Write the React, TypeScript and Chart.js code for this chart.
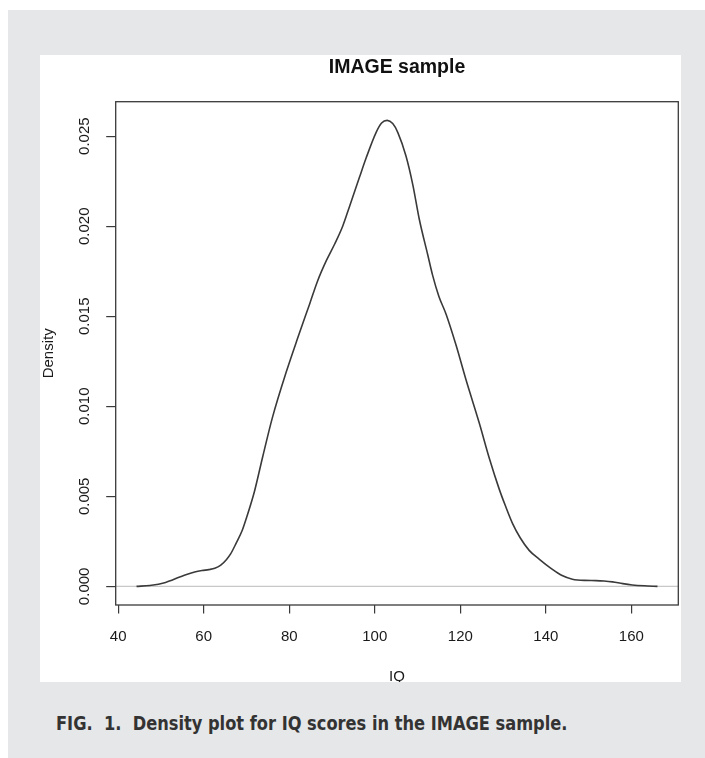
import React, { useEffect, useRef } from "react";
import { Chart, registerables } from "chart.js";

Chart.register(...registerables);

// ---- data ----
const iqValues = [
  44.3, 47.4, 51.1, 54.4, 56.0, 57.9, 59.6, 61.2, 62.6, 64.0, 65.3, 66.3, 67.6,
  69.0, 70.0, 71.9, 73.8, 76.1, 79.3, 82.0, 84.8, 86.7, 88.7, 90.6, 92.5, 94.1,
  96.4, 98.0, 100.3, 101.6, 102.9, 104.2, 105.4, 107.3, 108.9, 110.4, 112.4,
  113.5, 115.0, 116.7, 119.0, 121.3, 124.4, 126.8, 129.1, 130.5, 132.2, 134.0,
  136.1, 138.5, 141.2, 143.8, 146.2, 149.0, 151.7, 153.6, 155.6, 158.0, 160.2,
  163.0, 166.1,
];
const densityValues = [
  0, 0.00005, 0.00022, 0.00052, 0.00066, 0.0008, 0.00088, 0.00093, 0.001,
  0.00118, 0.00148, 0.0018, 0.0024, 0.0031, 0.0038, 0.0053, 0.0072, 0.0094,
  0.0119, 0.0138, 0.0157, 0.017, 0.0181, 0.019, 0.0200, 0.0211, 0.0227,
  0.0238, 0.0252, 0.02573, 0.02588, 0.0257, 0.0252, 0.0239, 0.0223, 0.0204,
  0.0184, 0.0173, 0.0161, 0.0151, 0.0134, 0.0115, 0.0091, 0.0071, 0.0054,
  0.0045, 0.0035, 0.0027, 0.002, 0.0015, 0.001, 0.0006, 0.0004, 0.00033,
  0.00032, 0.0003, 0.00025, 0.00015, 0.00008, 0.00003, 0,
];
const xTickValues = [40, 60, 80, 100, 120, 140, 160];
const yTickValues = [0, 0.005, 0.01, 0.015, 0.02, 0.025];
const xRange = [39.43, 170.97];
const yRange = [-0.001035, 0.026915];
const chartTitle = "IMAGE sample";
const xTitle = "IQ";
const yTitle = "Density";
const caption = "FIG.\u00a0 1.\u00a0 Density plot for IQ scores in the IMAGE sample.";

const FONT = "'Liberation Sans', Arial, Helvetica, sans-serif";

const framePlugin = {
  id: "rframe",
  beforeDatasetsDraw(chart: any) {
    const { ctx, chartArea: a, scales } = chart;
    const py = scales.y.getPixelForValue(0);
    ctx.save();
    ctx.strokeStyle = "#c8c8c8";
    ctx.lineWidth = 1.2;
    ctx.beginPath();
    ctx.moveTo(a.left, py);
    ctx.lineTo(a.right, py);
    ctx.stroke();
    ctx.restore();
  },
  afterDatasetsDraw(chart: any) {
    const { ctx, chartArea: a } = chart;
    ctx.save();
    ctx.strokeStyle = "#3a3a3a";
    ctx.lineWidth = 1.3;
    ctx.strokeRect(a.left, a.top, a.right - a.left, a.bottom - a.top);
    ctx.restore();
  },
};

function DensityChart() {
  const ref = useRef<HTMLCanvasElement | null>(null);
  useEffect(() => {
    if (!ref.current) return;
    const chart = new Chart(ref.current, {
      type: "line",
      data: {
        datasets: [
          {
            data: iqValues.map((x, i) => ({ x, y: densityValues[i] })),
            borderColor: "#3a3a3a",
            borderWidth: 1.6,
            pointRadius: 0,
            cubicInterpolationMode: "monotone",
            fill: false,
          },
        ],
      },
      options: {
        animation: false,
        responsive: true,
        maintainAspectRatio: false,
        layout: { padding: { left: 40, right: 26.7, top: 55, bottom: 71 } },
        plugins: {
          legend: { display: false },
          tooltip: { enabled: false },
          title: {
            display: true,
            text: chartTitle,
            fullSize: false,
            color: "#111",
            font: { family: FONT, size: 19.5, weight: "bold" },
            padding: { top: 1.3, bottom: 22 },
          },
        },
        scales: {
          x: {
            type: "linear",
            min: xRange[0],
            max: xRange[1],
            afterBuildTicks: (s: any) => {
              s.ticks = xTickValues.map((value) => ({ value }));
            },
            afterFit: (s: any) => {
              s.height = 82;
            },
            grid: {
              display: true,
              drawOnChartArea: false,
              drawTicks: true,
              tickLength: 8.5,
              color: "#3a3a3a",
              lineWidth: 1.2,
            },
            border: { display: false },
            ticks: {
              color: "#1a1a1a",
              font: { family: FONT, size: 15 },
              padding: 14,
              maxRotation: 0,
              minRotation: 0,
              callback: (v: any) => String(v),
            },
            title: {
              display: true,
              text: xTitle,
              color: "#1a1a1a",
              font: { family: FONT, size: 15 },
              padding: { top: 0, bottom: 1 },
            },
          },
          y: {
            type: "linear",
            min: yRange[0],
            max: yRange[1],
            afterBuildTicks: (s: any) => {
              s.ticks = yTickValues.map((value) => ({ value }));
            },
            afterFit: (s: any) => {
              s.width = 75.7;
            },
            grid: {
              display: true,
              drawOnChartArea: false,
              drawTicks: true,
              tickLength: 9.5,
              color: "#3a3a3a",
              lineWidth: 1.2,
            },
            border: { display: false },
            ticks: {
              color: "#1a1a1a",
              font: { family: FONT, size: 15 },
              padding: 2.5,
              minRotation: 90,
              maxRotation: 90,
              crossAlign: "center",
              callback: (v: any) => Number(v).toFixed(3),
            },
            title: {
              display: true,
              text: yTitle,
              color: "#1a1a1a",
              font: { family: FONT, size: 15 },
              padding: { top: 0, bottom: 0 },
            },
          },
        },
      },
      plugins: [framePlugin],
    } as any);
    return () => chart.destroy();
  }, []);
  return <canvas ref={ref} />;
}

export default function App() {
  return (
    <div
      style={{
        position: "absolute",
        left: 0,
        top: 0,
        width: 705,
        height: 758,
        background: "#ffffff",
        overflow: "hidden",
      }}
    >
      <div
        style={{
          position: "absolute",
          left: 8,
          top: 10,
          right: 0,
          bottom: 0,
          background: "#e6e7e8",
        }}
      />
      <div
        style={{
          position: "absolute",
          left: 40,
          top: 55,
          width: 641,
          height: 627,
          background: "#ffffff",
          overflow: "hidden",
        }}
      >
        <div
          style={{
            position: "absolute",
            left: -40,
            top: -55,
            width: 705,
            height: 758,
          }}
        >
          <DensityChart />
        </div>
      </div>
      <div
        style={{
          position: "absolute",
          left: 56,
          top: 712.5,
          whiteSpace: "nowrap",
          fontFamily: "'DejaVu Sans Condensed', 'DejaVu Sans', sans-serif",
          fontStretch: "condensed",
          fontWeight: "bold",
          fontSize: 19,
          lineHeight: "20px",
          color: "#333333",
          transform: "scaleX(0.95)",
          transformOrigin: "0 0",
        }}
      >
        {caption}
      </div>
    </div>
  );
}
